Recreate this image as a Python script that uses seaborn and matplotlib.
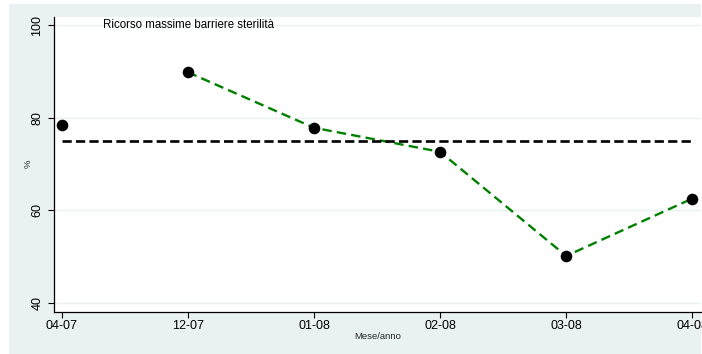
import numpy as np
import pandas as pd
import seaborn as sns
import matplotlib
matplotlib.use("Agg")
import matplotlib.pyplot as plt
from matplotlib.patches import Rectangle

# Monthly share (%) of procedures using maximal sterile barriers
mesi = ["04-07", "12-07", "01-08", "02-08", "03-08", "04-08"]
valori = [78.4, 89.8, 77.8, 72.6, 50.1, 62.5]
# months belonging to the consecutive monitoring run (joined by the trend line)
in_serie = [False, True, True, True, True, True]
obiettivo = 75.0

titolo = "Ricorso massime barriere sterilità"
y_ticks = [40, 60, 80, 100]

df = pd.DataFrame({"mese": mesi, "valore": valori, "serie": in_serie})
df["pos"] = np.arange(len(df))

sns.set_theme(style="white")
plt.rcParams["font.family"] = ["Liberation Sans", "DejaVu Sans"]

W, H = 702, 354
fig = plt.figure(figsize=(W / 100, H / 100), dpi=100, facecolor="white")
bg = "#EAF1F3"
fig.patches.append(Rectangle((9 / W, 0), (701 - 9) / W, (H - 4) / H,
                             transform=fig.transFigure, facecolor=bg,
                             edgecolor="none", zorder=-10))

ax = fig.add_axes([54.3 / W, (H - 311.7) / H, (701 - 54.3) / W, (311.7 - 16.7) / H])
ax.set_zorder(2)
ax.set_facecolor("white")

# trend line for the consecutive months
sns.lineplot(data=df[df["serie"]], x="pos", y="valore", ax=ax, color="#008000",
             linewidth=1.7, linestyle=(0, (4, 2.2)), zorder=2)
# target reference line across the observed period
ref = pd.DataFrame({"pos": [df["pos"].iloc[0], df["pos"].iloc[-1]],
                    "valore": [obiettivo, obiettivo]})
sns.lineplot(data=ref, x="pos", y="valore", ax=ax, color="black",
             linewidth=1.9, linestyle=(0, (3.5, 1.6)), zorder=3)
sns.scatterplot(data=df, x="pos", y="valore", ax=ax, color="black", s=70,
                edgecolor="black", linewidth=0, zorder=4)

ax.set_xlim(-0.059, 5.069)
ax.set_ylim(38.05, 101.8)
ax.set_yticks(y_ticks)
ax.set_yticklabels([str(v) for v in y_ticks], rotation=90, va="center", fontsize=9)
ax.set_xticks(df["pos"])
ax.set_xticklabels(mesi, fontsize=9)
for v in y_ticks:
    ax.axhline(v, color=bg, linewidth=1.0, zorder=1)

ax.tick_params(axis="both", which="both", direction="out", length=4, width=0.8,
               color="black", bottom=True, left=True, labelcolor="black")
ax.tick_params(axis="x", pad=2)
ax.tick_params(axis="y", pad=4)
for side in ["top", "right"]:
    ax.spines[side].set_visible(False)
for side in ["left", "bottom"]:
    ax.spines[side].set_color("black")
    ax.spines[side].set_linewidth(0.9)

ax.set_xlabel("Mese/anno", fontsize=6.8, labelpad=0)
ax.set_ylabel("%", fontsize=6.8, labelpad=-1)
ax.text(0.0748, 0.972, titolo, transform=ax.transAxes, fontsize=8.3,
        ha="left", va="center", color="black")

fig.savefig("out.png", dpi=100, facecolor="white")
